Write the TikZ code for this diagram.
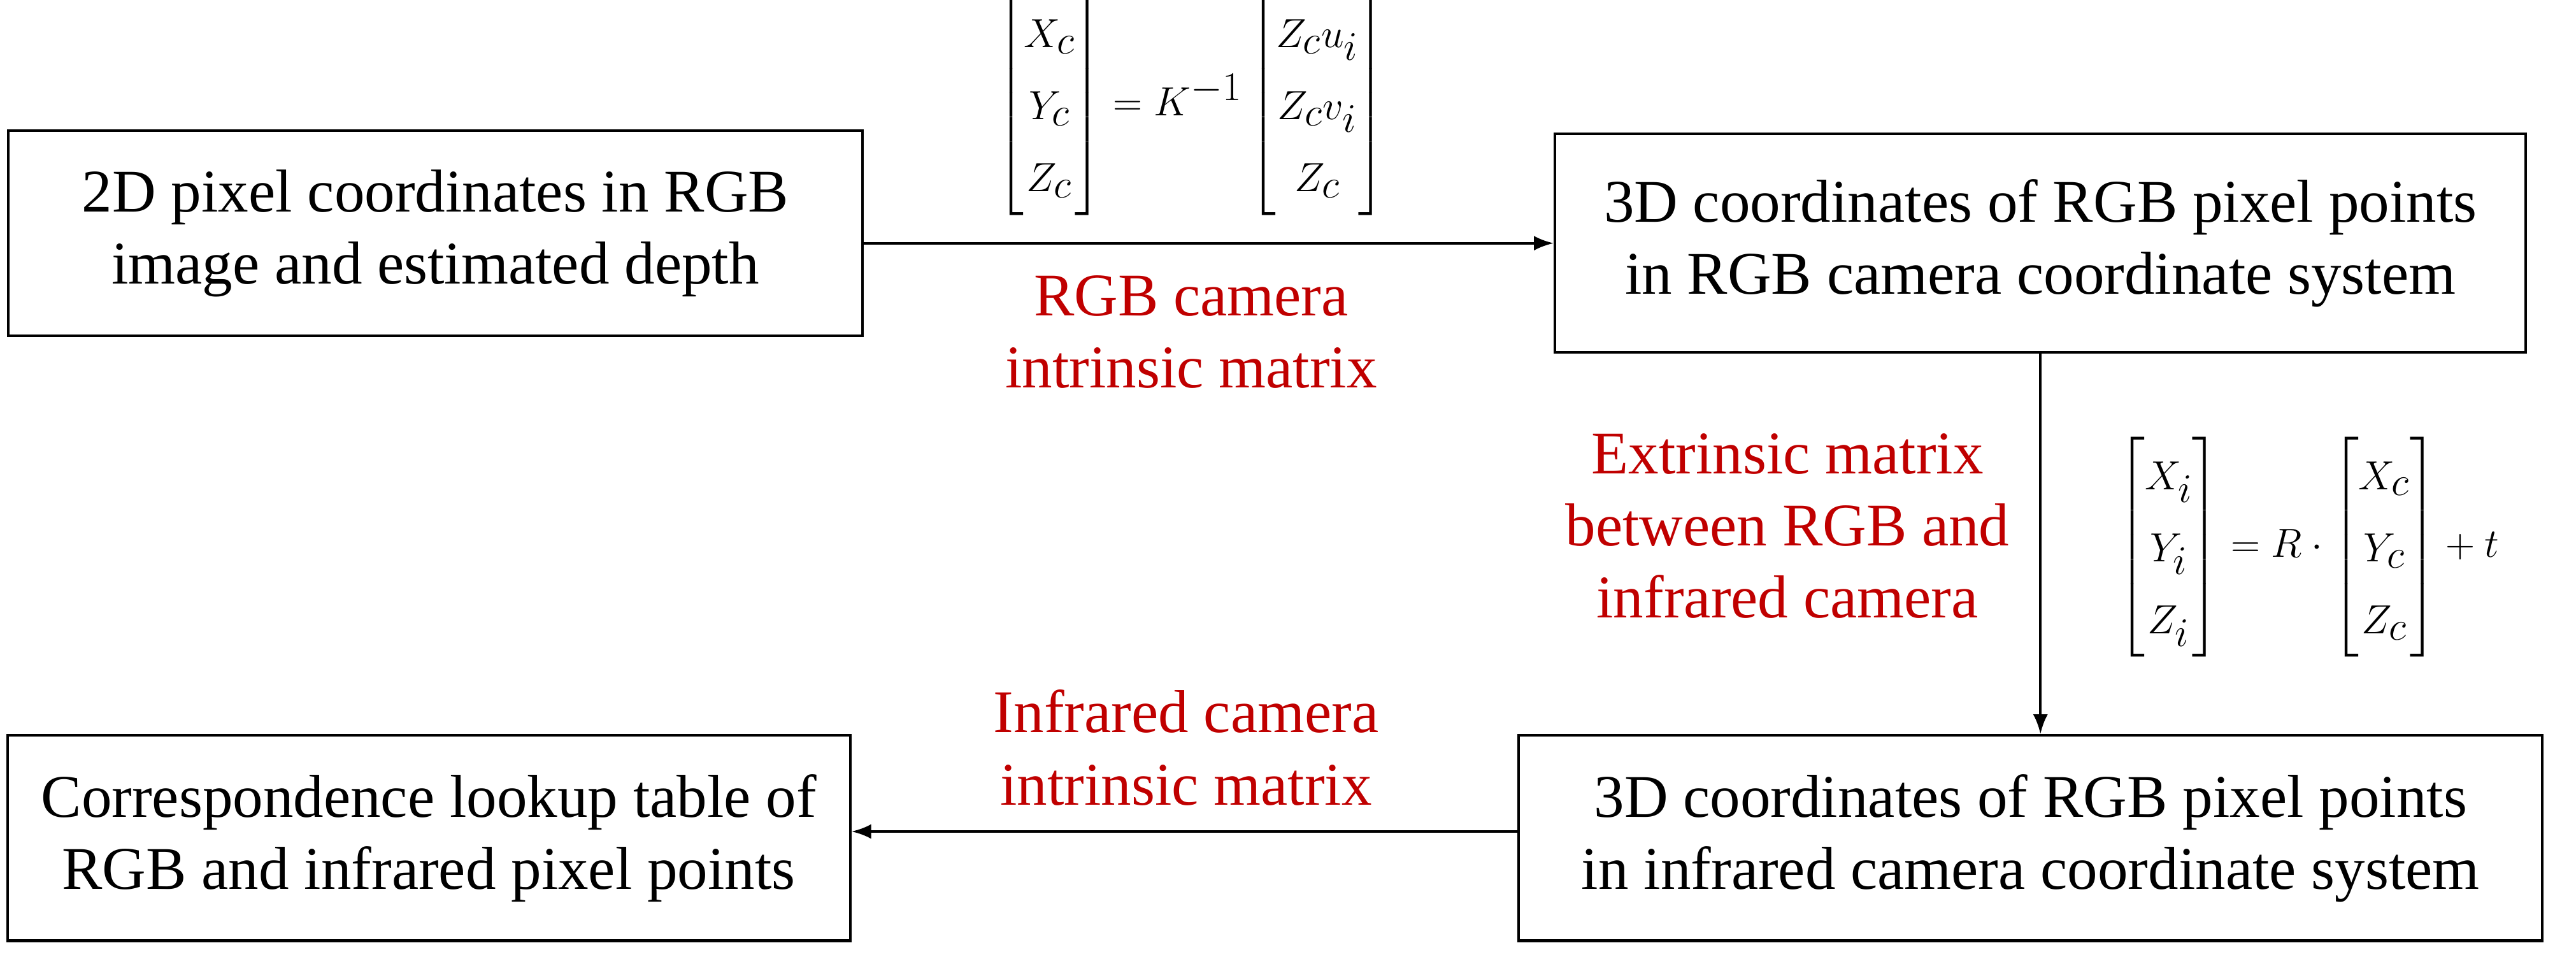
\documentclass[tikz,border=0pt]{standalone}
\usepackage{amsmath}
\usepackage{fontspec}
\setmainfont{Liberation Serif}
\usetikzlibrary{arrows.meta}
\definecolor{lblred}{RGB}{192,0,0}
\begin{document}
\begin{tikzpicture}[x=1bp,y=-1bp,
  box/.style={draw,line width=1.6bp,inner sep=0,font=\fontsize{37}{44}\selectfont,align=center},
  lbl/.style={text=lblred,font=\fontsize{37}{44}\selectfont,align=center},
  eq/.style={font=\fontsize{42}{44}\selectfont},
  arr/.style={-{Latex[length=12bp,width=9bp]},line width=1.6bp}]
\useasboundingbox (0,0) rectangle (1568,582);
\node[box,minimum width=520bp,minimum height=125bp] (a) at (265,142) {2D pixel coordinates in RGB\\image and estimated depth};
\node[box,minimum width=591bp,minimum height=133bp] (b) at (1242,148) {3D coordinates of RGB pixel points\\in RGB camera coordinate system};
\node[box,minimum width=623bp,minimum height=125bp] (c) at (1236,510) {3D coordinates of RGB pixel points\\in infrared camera coordinate system};
\node[box,minimum width=513bp,minimum height=125bp] (d) at (261,510) {Correspondence lookup table of\\RGB and infrared pixel points};
\draw[arr] (a.east |- 0,148) -- (b.west |- 0,148);
\draw[arr] (b.south) -- (b.south |- c.north);
\draw[arr] (c.west |- 0,506) -- (d.east |- 0,506);
\node[lbl] (l1) at (725,202) {RGB camera\\intrinsic matrix};
\node[lbl] (l2) at (1088,320) {Extrinsic matrix\\between RGB and\\infrared camera};
\node[lbl] (l3) at (722,455) {Infrared camera\\intrinsic matrix};
\node[eq,inner sep=0] (e1) at (725,64) {$\begin{bmatrix}X_c\\Y_c\\Z_c\end{bmatrix}=K^{-1}\begin{bmatrix}Z_cu_i\\Z_cv_i\\Z_c\end{bmatrix}$};
\node[eq,inner sep=0] (e2) at (1405,333) {$\begin{bmatrix}X_i\\Y_i\\Z_i\end{bmatrix}=R\cdot\begin{bmatrix}X_c\\Y_c\\Z_c\end{bmatrix}+t$};
\end{tikzpicture}
\end{document}
